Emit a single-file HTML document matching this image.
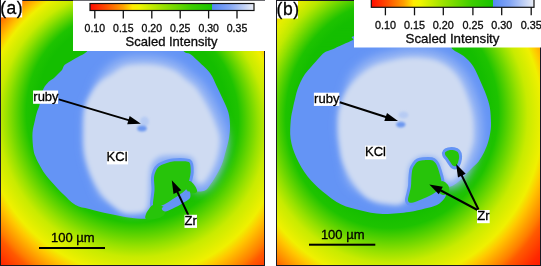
<!DOCTYPE html><html><head><meta charset="utf-8"><style>html,body{margin:0;padding:0;background:#fff;width:541px;height:266px;overflow:hidden}svg{display:block;will-change:transform}</style></head><body>
<svg width="541" height="266" viewBox="0 0 541 266">
<defs><filter id="blur3" x="-10%" y="-10%" width="120%" height="120%"><feGaussianBlur stdDeviation="2.5"/></filter><filter id="blur4" x="-15%" y="-15%" width="130%" height="130%"><feGaussianBlur stdDeviation="5"/></filter><filter id="blur1" x="-50%" y="-50%" width="200%" height="200%"><feGaussianBlur stdDeviation="1.2"/></filter>
<radialGradient id="gA" gradientTransform="matrix(0.95628 0.01708 0.01708 0.95867 133.539 137.128)" gradientUnits="userSpaceOnUse" cx="0" cy="0" r="200" fx="-1.955" fy="-49.712"><stop offset="0.000" stop-color="rgb(20, 190, 0)"/><stop offset="0.500" stop-color="rgb(20, 190, 0)"/><stop offset="0.555" stop-color="rgb(30, 195, 0)"/><stop offset="0.605" stop-color="rgb(90, 210, 0)"/><stop offset="0.655" stop-color="rgb(150, 225, 0)"/><stop offset="0.700" stop-color="rgb(200, 235, 0)"/><stop offset="0.775" stop-color="rgb(240, 240, 0)"/><stop offset="0.810" stop-color="rgb(255, 200, 0)"/><stop offset="0.880" stop-color="rgb(255, 125, 0)"/><stop offset="0.905" stop-color="rgb(255, 90, 0)"/><stop offset="0.975" stop-color="rgb(255, 40, 0)"/><stop offset="1.000" stop-color="rgb(255, 30, 0)"/></radialGradient>
<radialGradient id="gB" gradientTransform="matrix(0.95851 -0.01276 -0.01276 1.02582 396.162 130.016)" gradientUnits="userSpaceOnUse" cx="0" cy="0" r="200" fx="-10.202" fy="-34.931"><stop offset="0.000" stop-color="rgb(20, 190, 0)"/><stop offset="0.500" stop-color="rgb(20, 190, 0)"/><stop offset="0.555" stop-color="rgb(30, 195, 0)"/><stop offset="0.605" stop-color="rgb(90, 210, 0)"/><stop offset="0.655" stop-color="rgb(150, 225, 0)"/><stop offset="0.700" stop-color="rgb(200, 235, 0)"/><stop offset="0.775" stop-color="rgb(240, 240, 0)"/><stop offset="0.810" stop-color="rgb(255, 200, 0)"/><stop offset="0.880" stop-color="rgb(255, 125, 0)"/><stop offset="0.905" stop-color="rgb(255, 90, 0)"/><stop offset="0.975" stop-color="rgb(255, 40, 0)"/><stop offset="1.000" stop-color="rgb(255, 30, 0)"/></radialGradient>
<radialGradient id="gB2" gradientTransform="translate(393.4 126.3) scale(1 1.16) translate(-393.4 -126.3)" gradientUnits="userSpaceOnUse" cx="393.4" cy="126.3" r="197.3" fx="393.4" fy="126.3"><stop offset="0.000" stop-color="rgb(20, 190, 0)"/><stop offset="0.500" stop-color="rgb(20, 190, 0)"/><stop offset="0.555" stop-color="rgb(30, 195, 0)"/><stop offset="0.605" stop-color="rgb(90, 210, 0)"/><stop offset="0.655" stop-color="rgb(150, 225, 0)"/><stop offset="0.700" stop-color="rgb(200, 235, 0)"/><stop offset="0.775" stop-color="rgb(240, 240, 0)"/><stop offset="0.810" stop-color="rgb(255, 200, 0)"/><stop offset="0.880" stop-color="rgb(255, 125, 0)"/><stop offset="0.905" stop-color="rgb(255, 90, 0)"/><stop offset="0.975" stop-color="rgb(255, 40, 0)"/><stop offset="1.000" stop-color="rgb(255, 30, 0)"/></radialGradient>
<linearGradient id="mg" x1="0" y1="0" x2="0" y2="1"><stop offset="0" stop-color="#fff"/><stop offset="0.35" stop-color="#fff"/><stop offset="0.8" stop-color="#000"/></linearGradient><mask id="mB2" maskUnits="userSpaceOnUse" x="276" y="0" width="90" height="70"><rect x="276" y="0" width="90" height="70" fill="url(#mg)"/></mask>
</defs>
<rect width="541" height="266" fill="#fff"/>
<defs><clipPath id="aclip"><rect x="1" y="1" width="263" height="264"/></clipPath></defs><g clip-path="url(#aclip)"><rect x="0" y="0" width="265" height="266" fill="url(#gA)"/><path d="M95.0,40.0 C80.3,41.9 89.8,48.7 87.0,51.5 C84.2,54.3 80.7,55.4 78.0,57.0 C75.3,58.6 73.2,59.7 71.0,61.0 C68.8,62.3 66.0,63.5 64.5,65.0 C63.0,66.5 63.1,68.5 62.0,70.0 C60.9,71.5 59.3,72.7 58.0,74.0 C56.7,75.3 55.5,76.7 54.0,78.0 C52.5,79.3 50.4,80.0 48.7,81.8 C47.0,83.5 44.9,86.0 43.6,88.5 C42.3,91.0 41.7,94.2 41.0,97.0 C40.3,99.8 40.1,102.9 39.4,105.4 C38.7,107.9 37.6,109.8 36.9,112.2 C36.2,114.6 35.7,116.5 35.0,120.0 C34.3,123.5 32.8,128.0 32.5,133.0 C32.2,138.0 32.9,145.8 33.5,150.0 C34.1,154.2 35.1,155.7 36.0,158.0 C36.9,160.3 37.5,161.3 39.0,164.0 C40.5,166.7 42.6,170.7 45.0,174.0 C47.4,177.3 50.5,180.7 53.5,184.0 C56.5,187.3 59.3,190.5 63.0,194.0 C66.7,197.5 71.1,202.5 75.5,205.0 C79.9,207.5 83.7,207.5 89.3,209.0 C94.9,210.5 102.5,212.4 109.0,213.8 C115.5,215.2 122.4,216.7 128.5,217.5 C134.6,218.3 141.7,218.9 145.6,218.7 C149.5,218.4 149.6,217.1 152.0,216.0 C154.4,214.9 156.2,216.3 160.0,212.0 C163.8,207.7 170.3,194.7 175.0,190.0 C179.7,185.3 184.7,183.8 188.0,184.0 C191.3,184.2 192.2,189.9 195.0,191.0 C197.8,192.1 202.5,191.5 205.0,190.5 C207.5,189.5 208.3,187.2 210.0,185.0 C211.7,182.8 213.0,181.0 215.0,177.6 C217.0,174.2 220.0,168.9 221.8,164.5 C223.6,160.1 224.6,155.4 225.8,151.0 C227.0,146.6 228.3,142.2 229.0,138.0 C229.7,133.8 230.1,130.0 230.0,125.8 C229.9,121.6 229.6,117.0 228.4,112.6 C227.2,108.2 225.0,103.9 223.0,99.5 C221.0,95.1 218.8,90.4 216.6,86.0 C214.4,81.6 213.3,77.3 210.0,73.0 C206.7,68.7 200.3,63.2 197.0,60.0 C193.7,56.8 192.2,55.4 190.0,54.0 C187.8,52.6 186.5,53.8 184.0,51.5 C181.5,49.2 189.8,41.9 175.0,40.0 C160.2,38.1 109.7,38.1 95.0,40.0Z" fill="#6494f5"/><path d="M93.8,108.4 C94.9,105.0 97.4,101.5 99.0,97.7 C100.6,93.9 101.2,89.7 103.3,85.7 C105.5,81.8 108.6,77.2 112.0,74.0 C115.4,70.8 119.8,68.1 124.0,66.5 C128.2,64.9 132.7,64.8 137.0,64.5 C141.3,64.2 145.7,64.2 150.0,64.5 C154.3,64.8 158.7,65.3 163.0,66.5 C167.3,67.7 172.3,69.4 176.0,71.5 C179.7,73.6 181.8,76.4 185.0,79.0 C188.2,81.6 191.9,83.6 195.0,87.0 C198.1,90.4 200.9,95.2 203.5,99.5 C206.1,103.8 208.4,108.2 210.5,112.6 C212.6,117.0 214.5,121.6 216.0,125.8 C217.5,130.0 219.1,133.8 219.5,138.0 C219.9,142.2 219.3,146.6 218.5,151.0 C217.7,155.4 216.2,160.2 214.5,164.5 C212.8,168.8 209.9,174.0 208.0,177.0 C206.1,180.0 204.7,181.5 203.0,182.5 C201.3,183.5 199.2,183.9 198.0,183.0 C196.8,182.1 195.9,179.8 195.5,177.0 C195.1,174.2 195.9,169.1 195.5,166.0 C195.1,162.9 194.6,160.2 193.0,158.5 C191.4,156.8 189.5,156.1 186.0,155.5 C182.5,154.9 176.2,154.9 172.0,155.0 C167.8,155.1 164.0,155.1 161.0,156.0 C158.0,156.9 155.8,158.7 154.0,160.5 C152.2,162.3 151.3,164.1 150.5,167.0 C149.7,169.9 149.3,174.5 149.0,178.0 C148.7,181.5 149.0,184.8 148.9,187.8 C148.9,190.8 148.9,193.6 148.4,196.0 C147.9,198.5 148.0,201.1 145.7,202.6 C143.4,204.1 138.0,204.7 134.6,204.9 C131.3,205.1 128.8,205.2 125.7,203.8 C122.7,202.4 119.4,198.8 116.1,196.6 C112.9,194.4 108.8,194.1 106.2,190.7 C103.6,187.4 102.1,181.2 100.4,176.5 C98.7,171.9 97.2,167.6 96.0,163.0 C94.7,158.4 93.5,154.2 92.9,149.0 C92.3,143.8 92.5,136.7 92.4,131.5 C92.3,126.4 92.1,122.1 92.4,118.3 C92.6,114.4 92.7,111.9 93.8,108.4Z" fill="#9ab8f4" stroke="#9ab8f4" stroke-width="16" stroke-linejoin="round" filter="url(#blur4)"/><path d="M86.0,104.0 C87.3,100.2 89.7,95.7 92.0,92.0 C94.3,88.3 96.7,85.0 100.0,82.0 C103.3,79.0 108.0,76.6 112.0,74.0 C116.0,71.4 119.8,68.1 124.0,66.5 C128.2,64.9 132.7,64.8 137.0,64.5 C141.3,64.2 145.7,64.2 150.0,64.5 C154.3,64.8 158.7,65.3 163.0,66.5 C167.3,67.7 172.3,69.4 176.0,71.5 C179.7,73.6 181.8,76.4 185.0,79.0 C188.2,81.6 191.9,83.6 195.0,87.0 C198.1,90.4 200.9,95.2 203.5,99.5 C206.1,103.8 208.4,108.2 210.5,112.6 C212.6,117.0 214.5,121.6 216.0,125.8 C217.5,130.0 219.1,133.8 219.5,138.0 C219.9,142.2 219.3,146.6 218.5,151.0 C217.7,155.4 216.2,160.2 214.5,164.5 C212.8,168.8 209.9,174.0 208.0,177.0 C206.1,180.0 204.7,181.5 203.0,182.5 C201.3,183.5 199.2,183.9 198.0,183.0 C196.8,182.1 195.9,179.8 195.5,177.0 C195.1,174.2 195.9,169.1 195.5,166.0 C195.1,162.9 194.6,160.2 193.0,158.5 C191.4,156.8 189.5,156.1 186.0,155.5 C182.5,154.9 176.2,154.9 172.0,155.0 C167.8,155.1 164.0,155.1 161.0,156.0 C158.0,156.9 155.8,158.7 154.0,160.5 C152.2,162.3 151.3,164.1 150.5,167.0 C149.7,169.9 149.3,173.8 149.0,178.0 C148.7,182.2 148.8,187.5 148.5,192.0 C148.2,196.5 148.2,201.8 147.5,205.0 C146.8,208.2 147.1,210.1 144.5,211.5 C141.9,212.9 135.8,213.4 132.0,213.5 C128.2,213.6 125.5,213.6 122.0,212.0 C118.5,210.4 114.3,206.8 111.0,204.0 C107.7,201.2 104.9,198.8 102.0,195.0 C99.1,191.2 95.9,185.8 93.5,181.0 C91.1,176.2 89.1,171.2 87.5,166.0 C85.9,160.8 84.7,156.0 84.0,150.0 C83.3,144.0 83.5,135.8 83.5,130.0 C83.5,124.2 83.6,119.3 84.0,115.0 C84.4,110.7 84.7,107.8 86.0,104.0Z" fill="#cfdbf2" filter="url(#blur3)"/><path d="M153.0,205.0 C152.8,202.2 154.3,194.5 154.5,190.0 C154.7,185.5 153.8,181.2 154.0,178.0 C154.2,174.8 155.0,172.9 155.8,171.0 C156.6,169.1 157.6,167.7 159.0,166.5 C160.4,165.3 162.2,164.8 164.0,164.0 C165.8,163.2 168.0,162.5 170.0,162.0 C172.0,161.5 173.7,161.3 176.0,161.2 C178.3,161.1 181.9,161.1 184.0,161.2 C186.1,161.3 187.6,161.4 188.7,162.0 C189.8,162.6 190.0,163.3 190.3,165.0 C190.6,166.7 190.8,169.7 190.7,172.0 C190.6,174.3 190.0,176.7 189.5,179.0 C189.0,181.3 188.2,184.1 187.5,186.0 C186.8,187.9 186.4,189.0 185.0,190.5 C183.6,192.0 181.5,193.2 179.0,195.0 C176.5,196.8 172.7,199.3 170.0,201.0 C167.3,202.7 165.3,204.0 163.0,205.0 C160.7,206.0 157.7,207.0 156.0,207.0 C154.3,207.0 153.2,207.8 153.0,205.0Z" fill="#27c40a" stroke="#6494f5" stroke-width="6" stroke-linejoin="round" paint-order="stroke"/><path d="M149.0,209.0 C150.2,207.5 150.8,205.5 153.0,205.0 C155.2,204.5 159.8,205.2 162.0,206.0 C164.2,206.8 165.8,208.3 166.0,210.0 C166.2,211.7 164.8,214.5 163.0,216.0 C161.2,217.5 157.8,218.5 155.0,219.0 C152.2,219.5 147.5,219.8 146.0,219.0 C144.5,218.2 145.5,215.7 146.0,214.0 C146.5,212.3 147.8,210.5 149.0,209.0Z" fill="#27c40a"/><path d="M186.0,183.0 C186.7,181.7 188.5,180.5 190.0,181.0 C191.5,181.5 193.8,184.2 195.0,186.0 C196.2,187.8 197.7,190.8 197.0,192.0 C196.3,193.2 192.8,193.5 191.0,193.0 C189.2,192.5 186.8,190.7 186.0,189.0 C185.2,187.3 185.3,184.3 186.0,183.0Z" fill="#27c40a"/><path d="M162.0,208.0 C162.8,206.7 167.2,205.2 170.0,203.5 C172.8,201.8 176.5,199.7 179.0,198.0 C181.5,196.3 183.2,194.6 185.0,193.5 C186.8,192.4 188.7,190.8 189.5,191.5 C190.3,192.2 191.1,196.1 190.0,198.0 C188.9,199.9 185.8,201.2 183.0,203.0 C180.2,204.8 176.0,207.1 173.0,208.5 C170.0,209.9 166.8,211.6 165.0,211.5 C163.2,211.4 161.2,209.3 162.0,208.0Z" fill="#6494f5"/>
<ellipse cx="144.5" cy="121.5" rx="4.5" ry="5" fill="#a8c2f4" opacity="0.6" filter="url(#blur1)"/><ellipse cx="142" cy="128.5" rx="4.8" ry="3" fill="#6d98f0" filter="url(#blur1)"/>
</g>
<defs><clipPath id="bclip"><rect x="277" y="1" width="263" height="264"/></clipPath></defs><g clip-path="url(#bclip)"><rect x="276" y="0" width="265" height="266" fill="url(#gB)"/><rect x="276" y="0" width="90" height="70" fill="url(#gB2)" mask="url(#mB2)" opacity="0.4"/><path d="M360.0,36.0 C344.7,36.3 355.8,38.6 353.0,40.0 C350.2,41.4 346.5,42.9 343.0,44.5 C339.5,46.1 335.1,48.2 332.0,49.5 C328.9,50.8 326.8,50.9 324.5,52.5 C322.2,54.1 320.2,56.6 318.0,59.0 C315.8,61.4 313.2,64.5 311.0,67.0 C308.8,69.5 306.8,71.5 305.0,74.0 C303.2,76.5 301.8,79.2 300.5,82.0 C299.2,84.8 297.9,88.2 297.0,91.0 C296.1,93.8 295.7,96.2 295.0,99.0 C294.3,101.8 293.7,104.2 293.0,107.7 C292.3,111.2 291.2,114.8 290.8,120.0 C290.4,125.2 289.7,132.5 290.6,138.8 C291.5,145.1 293.5,151.3 296.3,157.6 C299.1,163.9 303.2,170.8 307.6,176.4 C312.0,182.0 317.0,186.7 322.6,191.4 C328.2,196.1 335.2,201.5 341.4,204.6 C347.6,207.7 353.1,208.6 360.0,210.2 C366.9,211.8 374.5,213.7 382.7,214.0 C390.9,214.3 401.9,212.9 409.0,212.0 C416.1,211.1 420.3,209.7 425.0,208.5 C429.7,207.3 433.8,206.6 437.0,205.0 C440.2,203.4 442.5,200.8 444.0,199.0 C445.5,197.2 446.0,195.5 446.0,194.0 C446.0,192.5 443.8,191.1 444.0,190.0 C444.2,188.9 445.7,188.2 447.0,187.5 C448.3,186.8 450.2,186.9 452.0,186.0 C453.8,185.1 456.1,183.6 458.0,182.0 C459.9,180.4 461.1,178.9 463.6,176.4 C466.1,173.9 470.5,169.5 473.0,167.0 C475.5,164.5 476.7,163.9 478.6,161.4 C480.5,158.9 482.6,155.1 484.2,152.0 C485.8,148.9 486.9,146.1 488.0,142.6 C489.1,139.1 490.0,134.3 490.5,131.0 C491.0,127.7 491.1,126.6 491.0,122.7 C490.9,118.8 490.7,112.4 489.9,107.7 C489.1,103.0 487.6,98.9 486.0,94.5 C484.4,90.1 482.7,86.2 480.5,81.4 C478.3,76.7 475.8,70.2 473.0,66.0 C470.2,61.8 467.1,58.8 463.6,56.0 C460.2,53.2 455.4,52.0 452.3,49.0 C449.2,46.0 460.4,40.2 445.0,38.0 C429.6,35.8 375.3,35.7 360.0,36.0Z" fill="#6494f5"/><path d="M347.3,114.4 C348.1,108.7 349.6,103.1 351.4,97.2 C353.2,91.3 354.5,84.2 358.0,79.1 C361.5,74.0 366.9,69.6 372.5,66.5 C378.1,63.4 385.1,62.0 391.4,60.5 C397.6,59.0 403.9,57.8 410.0,57.5 C416.1,57.2 422.7,57.6 428.0,58.5 C433.3,59.4 438.0,61.1 442.0,63.0 C446.0,64.9 449.0,67.2 452.0,70.0 C455.0,72.8 457.7,76.2 460.0,80.0 C462.3,83.8 464.2,88.3 466.0,93.0 C467.8,97.7 469.8,103.2 471.0,108.0 C472.2,112.8 473.1,116.7 473.5,122.0 C473.9,127.3 474.0,135.2 473.5,140.0 C473.0,144.8 471.6,147.7 470.5,151.0 C469.4,154.3 468.4,156.8 467.0,160.0 C465.6,163.2 463.7,167.2 462.0,170.0 C460.3,172.8 458.9,175.2 457.0,177.0 C455.1,178.8 452.4,180.2 450.6,180.6 C448.8,180.9 447.4,180.6 446.0,179.0 C444.6,177.4 442.9,173.5 442.0,171.0 C441.1,168.5 441.3,166.2 440.5,164.0 C439.7,161.8 438.8,159.3 437.0,158.0 C435.2,156.7 432.5,156.3 430.0,156.0 C427.5,155.7 424.3,155.6 422.0,156.0 C419.7,156.4 417.9,157.2 416.0,158.5 C414.1,159.8 411.8,161.4 410.5,163.5 C409.2,165.6 408.6,168.2 408.0,171.0 C407.4,173.8 407.3,178.2 407.1,180.4 C407.0,182.7 407.3,182.6 407.1,184.5 C406.9,186.4 407.1,189.7 406.0,191.6 C404.8,193.5 403.1,195.2 400.2,195.8 C397.4,196.4 392.2,195.7 388.8,195.4 C385.4,195.1 383.0,195.0 379.9,194.0 C376.8,192.9 374.2,191.4 370.1,188.9 C366.0,186.4 358.5,183.6 355.4,178.9 C352.2,174.1 352.3,166.1 351.1,160.5 C350.0,155.0 349.2,150.3 348.5,145.4 C347.8,140.6 347.1,136.5 346.9,131.3 C346.7,126.2 346.6,120.1 347.3,114.4Z" fill="#9ab8f4" stroke="#9ab8f4" stroke-width="16" stroke-linejoin="round" filter="url(#blur4)"/><path d="M339.0,111.0 C340.2,104.8 342.5,98.5 345.5,93.0 C348.5,87.5 352.5,82.4 357.0,78.0 C361.5,73.6 366.8,69.4 372.5,66.5 C378.2,63.6 385.1,62.0 391.4,60.5 C397.6,59.0 403.9,57.8 410.0,57.5 C416.1,57.2 422.7,57.6 428.0,58.5 C433.3,59.4 438.0,61.1 442.0,63.0 C446.0,64.9 449.0,67.2 452.0,70.0 C455.0,72.8 457.7,76.2 460.0,80.0 C462.3,83.8 464.2,88.3 466.0,93.0 C467.8,97.7 469.8,103.2 471.0,108.0 C472.2,112.8 473.1,116.7 473.5,122.0 C473.9,127.3 474.0,135.2 473.5,140.0 C473.0,144.8 471.6,147.7 470.5,151.0 C469.4,154.3 468.4,156.8 467.0,160.0 C465.6,163.2 463.7,167.2 462.0,170.0 C460.3,172.8 458.8,175.2 457.0,177.0 C455.2,178.8 452.8,180.7 451.0,181.0 C449.2,181.3 447.5,180.7 446.0,179.0 C444.5,177.3 442.9,173.5 442.0,171.0 C441.1,168.5 441.3,166.2 440.5,164.0 C439.7,161.8 438.8,159.3 437.0,158.0 C435.2,156.7 432.5,156.3 430.0,156.0 C427.5,155.7 424.3,155.6 422.0,156.0 C419.7,156.4 417.9,157.2 416.0,158.5 C414.1,159.8 411.8,161.4 410.5,163.5 C409.2,165.6 408.6,168.1 408.0,171.0 C407.4,173.9 407.3,177.7 407.0,181.0 C406.7,184.3 406.4,187.8 406.0,191.0 C405.6,194.2 405.8,198.2 404.5,200.5 C403.2,202.8 401.2,204.0 398.0,204.5 C394.8,205.0 388.8,204.0 385.0,203.5 C381.2,203.0 378.5,202.8 375.0,201.5 C371.5,200.2 367.8,198.9 364.0,195.5 C360.2,192.1 355.5,186.4 352.0,181.0 C348.5,175.6 345.1,168.8 343.0,163.0 C340.9,157.2 340.3,151.5 339.5,146.0 C338.7,140.5 338.1,135.8 338.0,130.0 C337.9,124.2 337.8,117.2 339.0,111.0Z" fill="#cfdbf2" filter="url(#blur3)"/><path d="M418.0,161.5 C419.3,160.8 420.7,160.4 423.0,160.2 C425.3,160.0 429.6,159.8 431.6,160.2 C433.6,160.6 434.0,161.4 435.0,162.5 C436.0,163.6 436.7,164.9 437.5,167.0 C438.3,169.1 439.3,172.3 440.0,175.0 C440.7,177.7 441.7,180.8 441.5,183.0 C441.3,185.2 440.2,186.3 439.0,188.0 C437.8,189.7 437.2,191.2 434.5,193.0 C431.8,194.8 426.8,197.2 423.0,198.8 C419.2,200.4 414.5,202.5 412.0,202.8 C409.5,203.1 408.4,202.1 408.0,200.5 C407.6,198.9 409.0,195.4 409.5,193.0 C410.0,190.6 410.7,188.8 411.0,186.0 C411.3,183.2 411.2,178.8 411.5,176.0 C411.8,173.2 411.9,170.9 412.5,169.0 C413.1,167.1 414.1,165.8 415.0,164.5 C415.9,163.2 416.7,162.2 418.0,161.5Z" fill="#27c40a" stroke="#6494f5" stroke-width="6" stroke-linejoin="round" paint-order="stroke"/><path d="M438.0,186.0 C438.7,184.3 440.3,181.2 442.0,181.0 C443.7,180.8 446.8,183.2 448.0,185.0 C449.2,186.8 449.8,190.3 449.0,192.0 C448.2,193.7 444.8,195.2 443.0,195.0 C441.2,194.8 438.8,192.5 438.0,191.0 C437.2,189.5 437.3,187.7 438.0,186.0Z" fill="#27c40a"/>
<path d="M445.4,152.1 C445.9,151.4 447.1,150.7 448.5,150.4 C449.9,150.1 452.3,150.0 453.8,150.3 C455.3,150.6 456.8,151.1 457.7,152.1 C458.6,153.1 459.0,154.9 459.1,156.6 C459.2,158.2 458.7,160.4 458.2,162.0 C457.7,163.6 456.9,165.4 456.0,166.0 C455.1,166.6 453.8,166.3 452.9,165.6 C451.9,164.9 451.2,163.3 450.3,162.0 C449.4,160.7 448.1,158.7 447.2,157.5 C446.3,156.3 445.5,155.7 445.2,154.8 C444.9,153.9 444.8,152.8 445.4,152.1Z" fill="#27c40a" stroke="#6494f5" stroke-width="6" stroke-linejoin="round" paint-order="stroke"/>
<ellipse cx="403.5" cy="115" rx="5" ry="3.5" fill="#a8c2f4" opacity="0.6" filter="url(#blur1)"/><ellipse cx="400.8" cy="124.6" rx="4.6" ry="2.8" fill="#6d98f0" filter="url(#blur1)"/>
</g>
<rect x="0.5" y="0.5" width="264" height="265" fill="none" stroke="#1a1a22" stroke-width="1"/>
<rect x="276.5" y="0.5" width="264" height="265" fill="none" stroke="#1a1a22" stroke-width="1"/>
<rect x="73" y="0" width="192" height="51" fill="#fff"/><rect x="73" y="0" width="192" height="1" fill="#6a6a70"/>
<linearGradient id="cbA" x1="0" x2="1" y1="0" y2="0"><stop offset="0%" stop-color="rgb(255, 10, 0)"/><stop offset="10%" stop-color="rgb(255, 80, 0)"/><stop offset="20%" stop-color="rgb(255, 160, 0)"/><stop offset="26%" stop-color="rgb(255, 235, 0)"/><stop offset="30%" stop-color="rgb(240, 245, 0)"/><stop offset="45%" stop-color="rgb(150, 225, 0)"/><stop offset="62%" stop-color="rgb(60, 205, 0)"/><stop offset="74.6%" stop-color="rgb(25, 195, 0)"/><stop offset="74.7%" stop-color="rgb(85, 135, 245)"/><stop offset="85%" stop-color="rgb(130, 165, 245)"/><stop offset="100%" stop-color="rgb(235, 238, 245)"/></linearGradient><rect x="90" y="3.5" width="164" height="7" fill="url(#cbA)" stroke="#111" stroke-width="1.2"/><line x1="94.8" y1="10.5" x2="94.8" y2="18.5" stroke="#111" stroke-width="1.3"/><text x="94.8" y="32.2" text-anchor="middle" font-size="10.5" font-family="Liberation Sans, sans-serif" stroke="#000" stroke-width="0.3" fill="#111">0.10</text><line x1="123.3" y1="10.5" x2="123.3" y2="18.5" stroke="#111" stroke-width="1.3"/><text x="123.3" y="32.2" text-anchor="middle" font-size="10.5" font-family="Liberation Sans, sans-serif" stroke="#000" stroke-width="0.3" fill="#111">0.15</text><line x1="151.8" y1="10.5" x2="151.8" y2="18.5" stroke="#111" stroke-width="1.3"/><text x="151.8" y="32.2" text-anchor="middle" font-size="10.5" font-family="Liberation Sans, sans-serif" stroke="#000" stroke-width="0.3" fill="#111">0.20</text><line x1="180.2" y1="10.5" x2="180.2" y2="18.5" stroke="#111" stroke-width="1.3"/><text x="180.2" y="32.2" text-anchor="middle" font-size="10.5" font-family="Liberation Sans, sans-serif" stroke="#000" stroke-width="0.3" fill="#111">0.25</text><line x1="208.6" y1="10.5" x2="208.6" y2="18.5" stroke="#111" stroke-width="1.3"/><text x="208.6" y="32.2" text-anchor="middle" font-size="10.5" font-family="Liberation Sans, sans-serif" stroke="#000" stroke-width="0.3" fill="#111">0.30</text><line x1="237.0" y1="10.5" x2="237.0" y2="18.5" stroke="#111" stroke-width="1.3"/><text x="237.0" y="32.2" text-anchor="middle" font-size="10.5" font-family="Liberation Sans, sans-serif" stroke="#000" stroke-width="0.3" fill="#111">0.35</text><text x="171.5" y="46.1" text-anchor="middle" font-size="13" font-family="Liberation Sans, sans-serif" stroke="#000" stroke-width="0.3" fill="#111">Scaled Intensity</text>
<rect x="354" y="0" width="187" height="47.5" fill="#fff"/>
<linearGradient id="cbB" x1="0" x2="1" y1="0" y2="0"><stop offset="0%" stop-color="rgb(255, 10, 0)"/><stop offset="10%" stop-color="rgb(255, 80, 0)"/><stop offset="20%" stop-color="rgb(255, 160, 0)"/><stop offset="26%" stop-color="rgb(255, 235, 0)"/><stop offset="30%" stop-color="rgb(240, 245, 0)"/><stop offset="45%" stop-color="rgb(150, 225, 0)"/><stop offset="62%" stop-color="rgb(60, 205, 0)"/><stop offset="74.6%" stop-color="rgb(25, 195, 0)"/><stop offset="74.7%" stop-color="rgb(85, 135, 245)"/><stop offset="85%" stop-color="rgb(130, 165, 245)"/><stop offset="100%" stop-color="rgb(235, 238, 245)"/></linearGradient><rect x="371.3" y="-5" width="162.7" height="12.3" fill="url(#cbB)" stroke="#111" stroke-width="1.2"/><line x1="385.4" y1="7.300000000000001" x2="385.4" y2="15.3" stroke="#111" stroke-width="1.3"/><text x="385.4" y="29.2" text-anchor="middle" font-size="10.8" font-family="Liberation Sans, sans-serif" stroke="#000" stroke-width="0.3" fill="#111">0.10</text><line x1="414.5" y1="7.300000000000001" x2="414.5" y2="15.3" stroke="#111" stroke-width="1.3"/><text x="414.5" y="29.2" text-anchor="middle" font-size="10.8" font-family="Liberation Sans, sans-serif" stroke="#000" stroke-width="0.3" fill="#111">0.15</text><line x1="443.3" y1="7.300000000000001" x2="443.3" y2="15.3" stroke="#111" stroke-width="1.3"/><text x="443.3" y="29.2" text-anchor="middle" font-size="10.8" font-family="Liberation Sans, sans-serif" stroke="#000" stroke-width="0.3" fill="#111">0.20</text><line x1="472.9" y1="7.300000000000001" x2="472.9" y2="15.3" stroke="#111" stroke-width="1.3"/><text x="472.9" y="29.2" text-anchor="middle" font-size="10.8" font-family="Liberation Sans, sans-serif" stroke="#000" stroke-width="0.3" fill="#111">0.25</text><line x1="501.7" y1="7.300000000000001" x2="501.7" y2="15.3" stroke="#111" stroke-width="1.3"/><text x="501.7" y="29.2" text-anchor="middle" font-size="10.8" font-family="Liberation Sans, sans-serif" stroke="#000" stroke-width="0.3" fill="#111">0.30</text><line x1="531.2" y1="7.300000000000001" x2="531.2" y2="15.3" stroke="#111" stroke-width="1.3"/><text x="531.2" y="29.2" text-anchor="middle" font-size="10.8" font-family="Liberation Sans, sans-serif" stroke="#000" stroke-width="0.3" fill="#111">0.35</text><text x="452.5" y="43.4" text-anchor="middle" font-size="13.3" font-family="Liberation Sans, sans-serif" stroke="#000" stroke-width="0.3" fill="#111">Scaled Intensity</text>
<rect x="1" y="0" width="21.2" height="17.4" fill="#fff"/><text x="0.3" y="13.9" font-size="17.5" letter-spacing="0.4" font-family="Liberation Sans, sans-serif" stroke="#000" stroke-width="0.3" fill="#000">(a)</text>
<rect x="277" y="1" width="21" height="17.5" fill="#fff"/><text x="276.6" y="14.5" font-size="17.5" letter-spacing="0.5" font-family="Liberation Sans, sans-serif" stroke="#000" stroke-width="0.3" fill="#000">(b)</text>
<rect x="33.1" y="90.5" width="25" height="13.3" fill="#fff"/><text x="33.3" y="100.9" font-size="13" letter-spacing="0" font-family="Liberation Sans, sans-serif" stroke="#000" stroke-width="0.3" fill="#000">ruby</text>
<line x1="58.8" y1="99.4" x2="129.4" y2="120.4" stroke="#000" stroke-width="2"/><polygon points="140.9,123.8 127.2,124.2 129.7,116.0" fill="#000"/>
<rect x="106.9" y="151" width="21.2" height="13.4" fill="#fff"/><text x="106.6" y="161.4" font-size="13" letter-spacing="0" font-family="Liberation Sans, sans-serif" stroke="#000" stroke-width="0.3" fill="#000">KCl</text>
<line x1="188.3" y1="215.0" x2="177.0" y2="191.1" stroke="#000" stroke-width="2"/><polygon points="171.8,180.3 181.3,190.2 173.5,193.9" fill="#000"/>
<rect x="184.5" y="214.8" width="12.5" height="13.1" fill="#fff"/><text x="184.6" y="224.6" font-size="13" letter-spacing="0" font-family="Liberation Sans, sans-serif" stroke="#000" stroke-width="0.3" fill="#000">Zr</text>
<text x="51" y="242" font-size="13" font-family="Liberation Sans, sans-serif" stroke="#000" stroke-width="0.3" fill="#000">100 µm</text>
<rect x="39" y="247" width="66" height="2" fill="#000"/>
<rect x="313.9" y="92.7" width="25.4" height="13.2" fill="#fff"/><text x="314.1" y="103.3" font-size="13" letter-spacing="0" font-family="Liberation Sans, sans-serif" stroke="#000" stroke-width="0.3" fill="#000">ruby</text>
<line x1="339.8" y1="102.2" x2="386.6" y2="117.3" stroke="#000" stroke-width="2"/><polygon points="398.0,121.0 384.3,121.1 387.0,112.9" fill="#000"/>
<rect x="365.1" y="145.6" width="21.1" height="13.7" fill="#fff"/><text x="365.0" y="156" font-size="13" letter-spacing="0" font-family="Liberation Sans, sans-serif" stroke="#000" stroke-width="0.3" fill="#000">KCl</text>
<line x1="477.5" y1="210.0" x2="439.9" y2="190.0" stroke="#000" stroke-width="2"/><polygon points="429.3,184.4 442.8,186.7 438.8,194.3" fill="#000"/>
<line x1="478.5" y1="209.5" x2="461.4" y2="174.8" stroke="#000" stroke-width="2"/><polygon points="456.1,164.0 465.7,173.8 458.0,177.6" fill="#000"/>
<rect x="477" y="210" width="12.7" height="13.2" fill="#fff"/><text x="477.3" y="220.4" font-size="13" letter-spacing="0" font-family="Liberation Sans, sans-serif" stroke="#000" stroke-width="0.3" fill="#000">Zr</text>
<text x="320.9" y="239" font-size="13" font-family="Liberation Sans, sans-serif" stroke="#000" stroke-width="0.3" fill="#000">100 µm</text>
<rect x="309" y="243.7" width="66.3" height="2" fill="#000"/>
</svg></body></html>
